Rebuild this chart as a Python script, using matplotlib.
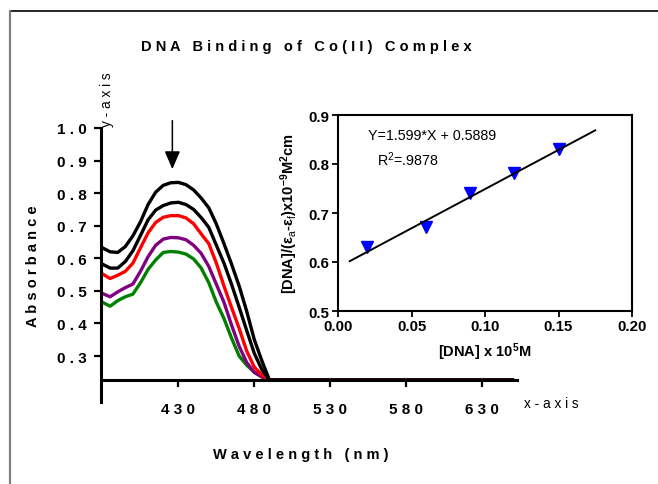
import matplotlib
matplotlib.use('Agg')
import matplotlib.pyplot as plt
from matplotlib.lines import Line2D

plt.rcParams['font.family'] = ['Liberation Sans', 'DejaVu Sans']
plt.rcParams['mathtext.fontset'] = 'custom'
plt.rcParams['mathtext.rm'] = 'Liberation Sans'
plt.rcParams['mathtext.it'] = 'Liberation Sans'
plt.rcParams['mathtext.bf'] = 'Liberation Sans:bold'

# UV-vis spectra (absorbance vs wavelength)
wavelength = [380, 385, 390, 395, 400, 405, 410, 415, 420, 425, 430, 435, 440,
              445, 450, 455, 460, 465, 470, 475, 480, 485, 490, 500, 550, 600, 650]
tail = [0.226, 0.226, 0.226, 0.226]
abs_1 = [0.632, 0.620, 0.618, 0.636, 0.669, 0.712, 0.765, 0.803, 0.824, 0.832, 0.833,
         0.826, 0.810, 0.785, 0.755, 0.705, 0.645, 0.582, 0.515, 0.437, 0.350, 0.285, 0.226] + tail
abs_2 = [0.582, 0.570, 0.570, 0.590, 0.623, 0.670, 0.718, 0.748, 0.762, 0.770, 0.772,
         0.765, 0.750, 0.725, 0.695, 0.640, 0.585, 0.520, 0.450, 0.378, 0.308, 0.258, 0.226] + tail
abs_3 = [0.552, 0.538, 0.548, 0.560, 0.585, 0.632, 0.678, 0.710, 0.726, 0.731, 0.731,
         0.724, 0.706, 0.675, 0.645, 0.585, 0.515, 0.449, 0.385, 0.315, 0.266, 0.242, 0.226] + tail
abs_4 = [0.492, 0.482, 0.497, 0.510, 0.521, 0.560, 0.605, 0.640, 0.659, 0.664, 0.663,
         0.657, 0.640, 0.615, 0.575, 0.520, 0.465, 0.395, 0.330, 0.280, 0.250, 0.236, 0.226] + tail
abs_5 = [0.465, 0.453, 0.470, 0.482, 0.490, 0.525, 0.566, 0.595, 0.618, 0.621, 0.619,
         0.613, 0.598, 0.570, 0.525, 0.465, 0.415, 0.355, 0.300, 0.272, 0.250, 0.236, 0.226] + tail
curve_colors = ['black', 'black', 'red', 'purple', 'green']

# binding plot data
dna_conc = [0.02, 0.06, 0.09, 0.12, 0.15]
dna_ratio = [0.631, 0.671, 0.741, 0.782, 0.831]
slope = 1.599
intercept = 0.5889
fit_x = [0.008, 0.175]

xticks = [430, 480, 530, 580, 630]
yticks = [0.3, 0.4, 0.5, 0.6, 0.7, 0.8, 0.9, 1.0]


def spaced(s):
    # fake letter spacing: one space between letters, three between words
    return '   '.join(' '.join(w) for w in s.split(' '))


fig = plt.figure(figsize=(6.58, 4.85), dpi=100)

# page frame (top and left edges only)
fig.add_artist(Line2D([10 / 658, 1], [1 - 11.5 / 485, 1 - 11.5 / 485], color='black', lw=1.2))
fig.add_artist(Line2D([10 / 658, 10 / 658], [0, 1 - 11.5 / 485], color='#808080', lw=1.6))

ax = fig.add_axes([101 / 658, 1 - 403 / 485, 416 / 658, 274 / 485])
for ys, c in zip([abs_5, abs_4, abs_3, abs_2, abs_1], curve_colors[::-1]):
    ax.plot(wavelength, ys, color=c, lw=2.4, clip_on=False, solid_joinstyle='round')

ax.set_xlim(379, 653)
ax.set_ylim(0.159, 1.0)
ax.spines['top'].set_visible(False)
ax.spines['right'].set_visible(False)
ax.spines['bottom'].set_position(('data', 0.226))
ax.spines['left'].set_linewidth(2.2)
ax.spines['bottom'].set_linewidth(2.2)
ax.set_xticks(xticks)
ax.set_xticklabels([spaced(str(t)) for t in xticks], fontsize=11, fontweight='bold')
ax.set_yticks(yticks)
ax.set_yticklabels([spaced('%.1f' % t) for t in yticks], fontsize=11, fontweight='bold')
ax.tick_params(axis='x', length=5, width=1.6, pad=11)
ax.tick_params(axis='y', length=5, width=1.6, pad=5)

ax.set_xlabel(spaced('Wavelength (nm)'), fontsize=10.5, fontweight='bold')
ax.xaxis.set_label_coords(0.48, -0.165)
ax.set_ylabel(spaced('Absorbance'), fontsize=10.5, fontweight='bold')
ax.yaxis.set_label_coords(-0.147, 0.50)

ax.text(0.014, 1.106, spaced('y-axis'), transform=ax.transAxes, rotation=90,
        ha='center', va='center', fontsize=9.8)
ax.text(1.082, -0.004, spaced('x-axis'), transform=ax.transAxes,
        ha='center', va='center', fontsize=9.8)

ax.annotate('', xy=(426, 0.865), xytext=(426, 1.031), annotation_clip=False,
            arrowprops=dict(arrowstyle='-|>,head_length=1.0,head_width=0.43',
                            mutation_scale=11, color='black', lw=1.1))

fig.text(306 / 658, 1 - 47 / 485, spaced('DNA Binding of Co(II) Complex'),
         ha='center', va='center', fontsize=10.5, fontweight='bold')

# inset: [DNA]/(ea-ef) vs [DNA]
ins = fig.add_axes([338 / 658, 1 - 312 / 485, 294 / 658, 196 / 485])
ins.plot(dna_conc, dna_ratio, 'v', color='blue', ms=8, clip_on=False)
ins.plot(fit_x, [slope * x + intercept for x in fit_x], color='black', lw=1.4)
ins.set_xlim(0, 0.20)
ins.set_ylim(0.5, 0.9)
ins.set_xticks([0.00, 0.05, 0.10, 0.15, 0.20])
ins.set_xticklabels(['0.00', '0.05', '0.10', '0.15', '0.20'], fontsize=10.8, fontweight='bold')
ins.set_yticks([0.5, 0.6, 0.7, 0.8, 0.9])
ins.set_yticklabels(['0.5', '0.6', '0.7', '0.8', '0.9'], fontsize=10.8, fontweight='bold')
for s in ins.spines.values():
    s.set_linewidth(1.5)
ins.tick_params(length=4, width=1.3, pad=2)
ins.set_xlabel(r'[DNA] x 10$^{\mathbf{5}}$M', fontsize=10.5, fontweight='bold')
ins.xaxis.set_label_coords(0.5, -0.15)
ins.set_ylabel(r'[DNA]/(ε$_{a}$-ε$_{f}$)x10$^{\mathbf{-9}}$M$^{\mathbf{2}}$cm',
               fontsize=10.5, fontweight='bold')
ins.yaxis.set_label_coords(-0.13, 0.5)
ins.text(0.0204, 0.859, 'Y=1.599*X + 0.5889', fontsize=10.3, va='center')
ins.text(0.0265, 0.810, r'R$^{2}$=.9878', fontsize=10.3, va='center')

fig.savefig('out.png', dpi=100)
